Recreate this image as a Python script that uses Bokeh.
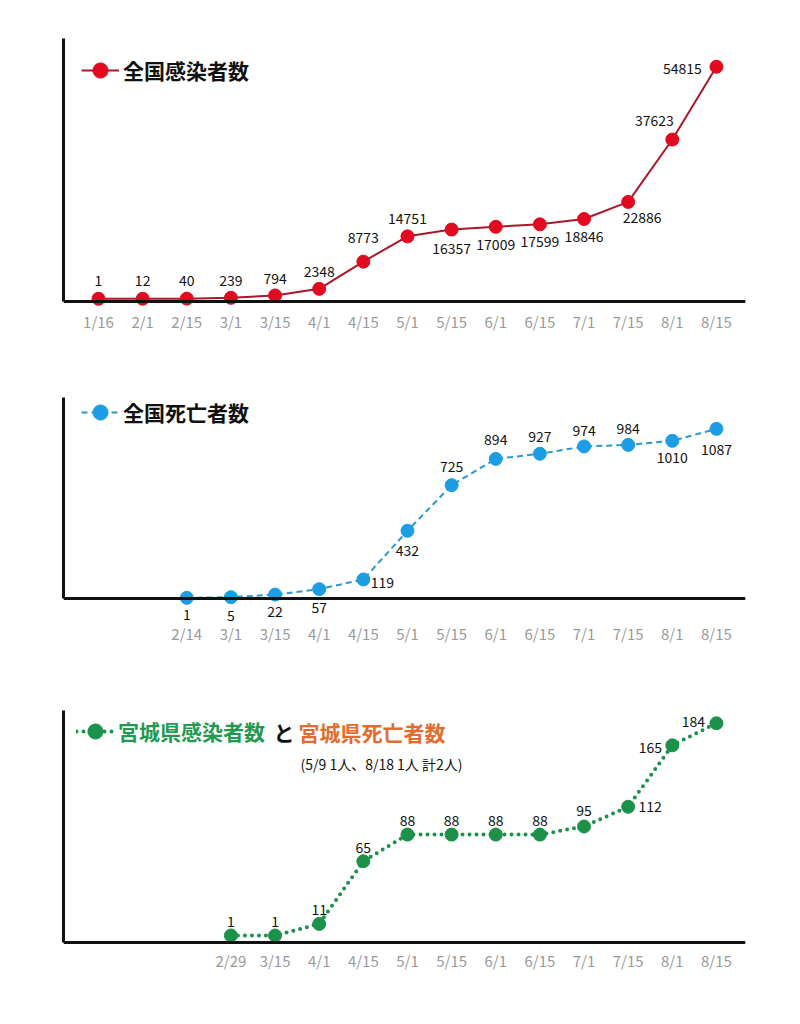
from bokeh.plotting import figure
from bokeh.layouts import column
from bokeh.models import (Range1d, FixedTicker, ColumnDataSource, LabelSet,
                          Legend, LegendItem, Label)
from bokeh.core.properties import value
from bokeh.embed import file_html
from bokeh.resources import INLINE

FONT = "Noto Sans CJK JP"

# ---------------- data ----------------
axis_dates = ["1/16", "2/1", "2/15", "3/1", "3/15", "4/1", "4/15", "5/1",
              "5/15", "6/1", "6/15", "7/1", "7/15", "8/1", "8/15"]

national_cases_dates = ["1/16", "2/1", "2/15", "3/1", "3/15", "4/1", "4/15", "5/1",
                        "5/15", "6/1", "6/15", "7/1", "7/15", "8/1", "8/15"]
national_cases = [1, 12, 40, 239, 794, 2348, 8773, 14751, 16357, 17009, 17599,
                  18846, 22886, 37623, 54815]

national_deaths_dates = ["2/14", "3/1", "3/15", "4/1", "4/15", "5/1", "5/15",
                         "6/1", "6/15", "7/1", "7/15", "8/1", "8/15"]
national_deaths = [1, 5, 22, 57, 119, 432, 725, 894, 927, 974, 984, 1010, 1087]

miyagi_cases_dates = ["2/29", "3/15", "4/1", "4/15", "5/1", "5/15", "6/1",
                      "6/15", "7/1", "7/15", "8/1", "8/15"]
miyagi_cases = [1, 1, 11, 65, 88, 88, 88, 88, 95, 112, 165, 184]

title1 = "全国感染者数"
title2 = "全国死亡者数"
title3a = "宮城県感染者数"
title3b = "と"
title3c = "宮城県死亡者数"
subtitle3 = "(5/9 1人、8/18 1人 計2人)"

# ---------------- layout / style (not data) ----------------
# label offsets in screen px (dx right, dy down)
lab1_dx = [0, 0, 0, 0, 0, 0, 0, 0, 0, 0, 0, 0, 14, -18, -34]
lab1_dy = [-18, -18, -18, -17, -17, -17, -24, -18, 19, 18, 17, 17, 16, -19, 2]
lab2_dx = [0, 0, 0, 0, 19, 0, 0, 0, 0, 0, 0, 0, 0]
lab2_dy = [17, 18, 17, 18, 3, 20, -19, -19, -17, -16, -16, 17, 21]
lab3_dx = [0, 0, 0, 0, 0, 0, 0, 0, 0, 22, -22, -23]
lab3_dy = [-14, -14, -14, -14, -14, -14, -14, -14, -16, 0, 2, -2]

X_RANGE = (-0.793, 14.658)
W = 792
BL, BR = 63, 47


def panel(dates, values, start_slot, height, btop, bbot, yr, axis_at,
          line_kw, dot_color, dot_size, ldx, ldy, standoff,
          leg_text, leg_color, leg_loc):
    p = figure(width=W, height=height, output_backend="svg", toolbar_location=None,
               x_range=Range1d(*X_RANGE), y_range=Range1d(*yr),
               min_border_left=BL, min_border_right=BR,
               min_border_top=btop, min_border_bottom=bbot)
    p.outline_line_color = None
    p.grid.visible = False
    p.background_fill_color = "white"
    p.border_fill_color = "white"

    slot_of = {d: start_slot + i for i, d in enumerate(dates)}
    xs = [slot_of[d] for d in dates]
    src = ColumnDataSource(dict(x=xs, y=values, t=[str(v) for v in values],
                                dx=ldx, dy=[-d for d in ldy]))
    lr = p.line("x", "y", source=src, **line_kw)
    sr = p.scatter("x", "y", source=src, size=dot_size, color=dot_color,
                   line_color=dot_color)
    labels = LabelSet(x="x", y="y", text="t", source=src, x_offset="dx",
                      y_offset="dy", text_align="center", text_baseline="middle",
                      text_font=value(FONT), text_font_size="14px",
                      text_color="#111111")
    p.add_layout(labels)

    # axes
    xa = p.xaxis[0]
    xa.fixed_location = axis_at
    xa.ticker = FixedTicker(ticks=xs)
    xa.major_label_overrides = {x: d for x, d in zip(xs, dates)}
    xa.axis_line_width = 3
    xa.axis_line_color = "#111111"
    xa.major_tick_line_color = None
    xa.minor_tick_line_color = None
    xa.major_tick_out = 0
    xa.major_label_standoff = standoff
    xa.major_label_text_font = FONT
    xa.major_label_text_font_size = "15px"
    xa.major_label_text_color = "#9a9a9a"

    ya = p.yaxis[0]
    ya.ticker = FixedTicker(ticks=[])
    ya.bounds = (axis_at, yr[1])
    ya.axis_line_width = 3
    ya.axis_line_color = "#111111"
    ya.major_tick_line_color = None
    ya.minor_tick_line_color = None
    ya.major_label_text_font_size = "0px"

    leg = Legend(items=[LegendItem(label=leg_text, renderers=[lr, sr])],
                 location=leg_loc, padding=0, margin=0, spacing=0,
                 glyph_width=38, glyph_height=42, label_height=42,
                 label_standoff=4, border_line_alpha=0,
                 background_fill_alpha=0, label_text_font=FONT,
                 label_text_font_size="21px", label_text_font_style="bold",
                 label_text_color=leg_color)
    p.add_layout(leg)
    return p


p1 = panel(national_cases_dates, national_cases, 0, 372, 38, 40,
           (-7961, 61493), -638,
           dict(line_color="#a8182a", line_width=2),
           "#e10a1e", 13, lab1_dx, lab1_dy, 9,
           title1, "#111111", (18, 241))

p2 = panel(national_deaths_dates, national_deaths, 2, 325, 25, 52,
           (-305.3, 1288.6), -1.9,
           dict(line_color="#2b98cf", line_width=2, line_dash="6 4"),
           "#1d9de3", 13, lab2_dx, lab2_dy, 25,
           title2, "#111111", (18, 212))

p3 = panel(miyagi_cases_dates, miyagi_cases, 3, 310, 13, 35,
           (-30.9, 195.0), -5.26,
           dict(line_color="#1b914a", line_width=4, line_dash="0 7",
                line_cap="round"),
           "#1b914a", 13, lab3_dx, lab3_dy, 7,
           title3a, "#1f9a50", (13, 220))

p3.add_layout(Label(x=210, y=241, x_units="screen", y_units="screen",
                    text=title3b, text_font=FONT, text_font_size="21px",
                    text_font_style="bold", text_color="#111111",
                    text_baseline="middle", text_align="left"))
p3.add_layout(Label(x=235, y=241, x_units="screen", y_units="screen",
                    text=title3c, text_font=FONT, text_font_size="21px",
                    text_font_style="bold", text_color="#e36c2d",
                    text_baseline="middle", text_align="left"))
p3.add_layout(Label(x=237, y=209, x_units="screen", y_units="screen",
                    text=subtitle3, text_font=FONT, text_font_size="14px",
                    text_color="#111111", text_baseline="middle",
                    text_align="left"))

layout = column(p1, p2, p3, spacing=0)
open("out.html", "w").write(file_html(layout, INLINE))
